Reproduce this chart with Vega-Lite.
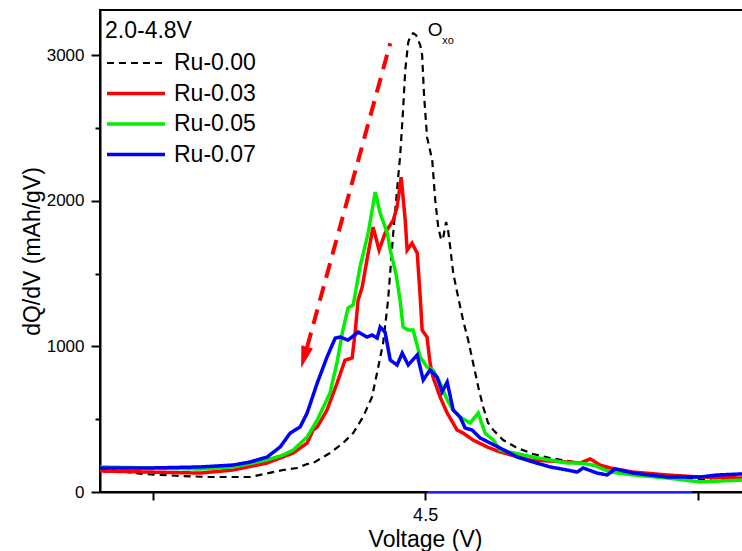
{
  "$schema": "https://vega.github.io/schema/vega-lite/v6.json",
  "width": 650,
  "height": 482,
  "autosize": "none",
  "padding": {"left": 100, "top": 10, "right": 0, "bottom": 59},
  "background": "white",
  "config": {
    "font": "Liberation Sans",
    "view": {"stroke": "black", "strokeWidth": 2},
    "axis": {"domainColor": "black", "domainWidth": 2, "tickColor": "black", "tickWidth": 2, "labelColor": "black", "titleColor": "black", "grid": false, "labelFontSize": 17, "titleFontSize": 23, "titleFontWeight": "normal"}
  },
  "datasets": {
    "curves": [
      {"s": "Ru-0.00", "v": 4.3807, "q": 158}, {"s": "Ru-0.00", "v": 4.3965, "q": 124}, {"s": "Ru-0.00", "v": 4.4101, "q": 110}, {"s": "Ru-0.00", "v": 4.4211, "q": 103}, {"s": "Ru-0.00", "v": 4.4358, "q": 103}, {"s": "Ru-0.00", "v": 4.4479, "q": 151}, {"s": "Ru-0.00", "v": 4.4530, "q": 165}, {"s": "Ru-0.00", "v": 4.4567, "q": 192}, {"s": "Ru-0.00", "v": 4.4589, "q": 199}, {"s": "Ru-0.00", "v": 4.4651, "q": 268}, {"s": "Ru-0.00", "v": 4.4699, "q": 336}, {"s": "Ru-0.00", "v": 4.4736, "q": 405}, {"s": "Ru-0.00", "v": 4.4772, "q": 515}, {"s": "Ru-0.00", "v": 4.4805, "q": 652}, {"s": "Ru-0.00", "v": 4.4828, "q": 858}, {"s": "Ru-0.00", "v": 4.4846, "q": 1023}, {"s": "Ru-0.00", "v": 4.4864, "q": 1318}, {"s": "Ru-0.00", "v": 4.4883, "q": 1778}, {"s": "Ru-0.00", "v": 4.4901, "q": 2162}, {"s": "Ru-0.00", "v": 4.4908, "q": 2300}, {"s": "Ru-0.00", "v": 4.4919, "q": 2622}, {"s": "Ru-0.00", "v": 4.4927, "q": 2897}, {"s": "Ru-0.00", "v": 4.4938, "q": 3089}, {"s": "Ru-0.00", "v": 4.4945, "q": 3124}, {"s": "Ru-0.00", "v": 4.4956, "q": 3151}, {"s": "Ru-0.00", "v": 4.4967, "q": 3137}, {"s": "Ru-0.00", "v": 4.4982, "q": 3069}, {"s": "Ru-0.00", "v": 4.4989, "q": 3000}, {"s": "Ru-0.00", "v": 4.4996, "q": 2725}, {"s": "Ru-0.00", "v": 4.5007, "q": 2437}, {"s": "Ru-0.00", "v": 4.5026, "q": 2279}, {"s": "Ru-0.00", "v": 4.5037, "q": 2005}, {"s": "Ru-0.00", "v": 4.5048, "q": 1819}, {"s": "Ru-0.00", "v": 4.5059, "q": 1730}, {"s": "Ru-0.00", "v": 4.5066, "q": 1744}, {"s": "Ru-0.00", "v": 4.5077, "q": 1854}, {"s": "Ru-0.00", "v": 4.5084, "q": 1799}, {"s": "Ru-0.00", "v": 4.5092, "q": 1682}, {"s": "Ru-0.00", "v": 4.5103, "q": 1503}, {"s": "Ru-0.00", "v": 4.5121, "q": 1339}, {"s": "Ru-0.00", "v": 4.5139, "q": 1181}, {"s": "Ru-0.00", "v": 4.5158, "q": 1043}, {"s": "Ru-0.00", "v": 4.5176, "q": 886}, {"s": "Ru-0.00", "v": 4.5195, "q": 721}, {"s": "Ru-0.00", "v": 4.5213, "q": 584}, {"s": "Ru-0.00", "v": 4.5231, "q": 474}, {"s": "Ru-0.00", "v": 4.5250, "q": 426}, {"s": "Ru-0.00", "v": 4.5286, "q": 357}, {"s": "Ru-0.00", "v": 4.5338, "q": 302}, {"s": "Ru-0.00", "v": 4.5396, "q": 261}, {"s": "Ru-0.00", "v": 4.5459, "q": 233}, {"s": "Ru-0.00", "v": 4.5569, "q": 199}, {"s": "Ru-0.00", "v": 4.5642, "q": 172}, {"s": "Ru-0.00", "v": 4.5763, "q": 137}, {"s": "Ru-0.00", "v": 4.5888, "q": 110}, {"s": "Ru-0.00", "v": 4.6009, "q": 89}, {"s": "Ru-0.00", "v": 4.6057, "q": 76}, {"s": "Ru-0.00", "v": 4.6163, "q": 96},

      {"s": "Ru-0.03", "v": 4.3807, "q": 144}, {"s": "Ru-0.03", "v": 4.3991, "q": 137}, {"s": "Ru-0.03", "v": 4.4174, "q": 130}, {"s": "Ru-0.03", "v": 4.4295, "q": 151}, {"s": "Ru-0.03", "v": 4.4420, "q": 199}, {"s": "Ru-0.03", "v": 4.4516, "q": 268}, {"s": "Ru-0.03", "v": 4.4567, "q": 336}, {"s": "Ru-0.03", "v": 4.4589, "q": 426}, {"s": "Ru-0.03", "v": 4.4604, "q": 446}, {"s": "Ru-0.03", "v": 4.4640, "q": 563}, {"s": "Ru-0.03", "v": 4.4677, "q": 748}, {"s": "Ru-0.03", "v": 4.4706, "q": 906}, {"s": "Ru-0.03", "v": 4.4732, "q": 920}, {"s": "Ru-0.03", "v": 4.4743, "q": 1092}, {"s": "Ru-0.03", "v": 4.4754, "q": 1318}, {"s": "Ru-0.03", "v": 4.4769, "q": 1407}, {"s": "Ru-0.03", "v": 4.4791, "q": 1641}, {"s": "Ru-0.03", "v": 4.4809, "q": 1819}, {"s": "Ru-0.03", "v": 4.4831, "q": 1661}, {"s": "Ru-0.03", "v": 4.4853, "q": 1778}, {"s": "Ru-0.03", "v": 4.4883, "q": 1867}, {"s": "Ru-0.03", "v": 4.4897, "q": 1957}, {"s": "Ru-0.03", "v": 4.4912, "q": 2162}, {"s": "Ru-0.03", "v": 4.4927, "q": 1867}, {"s": "Ru-0.03", "v": 4.4934, "q": 1661}, {"s": "Ru-0.03", "v": 4.4952, "q": 1709}, {"s": "Ru-0.03", "v": 4.4971, "q": 1641}, {"s": "Ru-0.03", "v": 4.4982, "q": 1339}, {"s": "Ru-0.03", "v": 4.4989, "q": 1112}, {"s": "Ru-0.03", "v": 4.5007, "q": 1064}, {"s": "Ru-0.03", "v": 4.5018, "q": 886}, {"s": "Ru-0.03", "v": 4.5029, "q": 789}, {"s": "Ru-0.03", "v": 4.5055, "q": 652}, {"s": "Ru-0.03", "v": 4.5081, "q": 542}, {"s": "Ru-0.03", "v": 4.5117, "q": 426}, {"s": "Ru-0.03", "v": 4.5139, "q": 405}, {"s": "Ru-0.03", "v": 4.5176, "q": 357}, {"s": "Ru-0.03", "v": 4.5228, "q": 309}, {"s": "Ru-0.03", "v": 4.5275, "q": 275}, {"s": "Ru-0.03", "v": 4.5385, "q": 220}, {"s": "Ru-0.03", "v": 4.5521, "q": 206}, {"s": "Ru-0.03", "v": 4.5569, "q": 199}, {"s": "Ru-0.03", "v": 4.5606, "q": 227}, {"s": "Ru-0.03", "v": 4.5642, "q": 185}, {"s": "Ru-0.03", "v": 4.5679, "q": 165}, {"s": "Ru-0.03", "v": 4.5763, "q": 137}, {"s": "Ru-0.03", "v": 4.5888, "q": 117}, {"s": "Ru-0.03", "v": 4.6009, "q": 103}, {"s": "Ru-0.03", "v": 4.6163, "q": 96},

      {"s": "Ru-0.05", "v": 4.3807, "q": 172}, {"s": "Ru-0.05", "v": 4.3991, "q": 165}, {"s": "Ru-0.05", "v": 4.4174, "q": 158}, {"s": "Ru-0.05", "v": 4.4295, "q": 172}, {"s": "Ru-0.05", "v": 4.4420, "q": 220}, {"s": "Ru-0.05", "v": 4.4479, "q": 254}, {"s": "Ru-0.05", "v": 4.4516, "q": 288}, {"s": "Ru-0.05", "v": 4.4567, "q": 378}, {"s": "Ru-0.05", "v": 4.4604, "q": 494}, {"s": "Ru-0.05", "v": 4.4651, "q": 680}, {"s": "Ru-0.05", "v": 4.4677, "q": 892}, {"s": "Ru-0.05", "v": 4.4696, "q": 1092}, {"s": "Ru-0.05", "v": 4.4717, "q": 1263}, {"s": "Ru-0.05", "v": 4.4736, "q": 1284}, {"s": "Ru-0.05", "v": 4.4761, "q": 1545}, {"s": "Ru-0.05", "v": 4.4791, "q": 1778}, {"s": "Ru-0.05", "v": 4.4817, "q": 2060}, {"s": "Ru-0.05", "v": 4.4835, "q": 1915}, {"s": "Ru-0.05", "v": 4.4861, "q": 1778}, {"s": "Ru-0.05", "v": 4.4872, "q": 1661}, {"s": "Ru-0.05", "v": 4.4894, "q": 1490}, {"s": "Ru-0.05", "v": 4.4908, "q": 1318}, {"s": "Ru-0.05", "v": 4.4919, "q": 1133}, {"s": "Ru-0.05", "v": 4.4938, "q": 1112}, {"s": "Ru-0.05", "v": 4.4956, "q": 1112}, {"s": "Ru-0.05", "v": 4.4982, "q": 927}, {"s": "Ru-0.05", "v": 4.5007, "q": 858}, {"s": "Ru-0.05", "v": 4.5029, "q": 838}, {"s": "Ru-0.05", "v": 4.5055, "q": 748}, {"s": "Ru-0.05", "v": 4.5081, "q": 632}, {"s": "Ru-0.05", "v": 4.5103, "q": 563}, {"s": "Ru-0.05", "v": 4.5128, "q": 515}, {"s": "Ru-0.05", "v": 4.5165, "q": 474}, {"s": "Ru-0.05", "v": 4.5195, "q": 542}, {"s": "Ru-0.05", "v": 4.5220, "q": 405}, {"s": "Ru-0.05", "v": 4.5250, "q": 357}, {"s": "Ru-0.05", "v": 4.5275, "q": 288}, {"s": "Ru-0.05", "v": 4.5396, "q": 240}, {"s": "Ru-0.05", "v": 4.5521, "q": 199}, {"s": "Ru-0.05", "v": 4.5569, "q": 199}, {"s": "Ru-0.05", "v": 4.5617, "q": 185}, {"s": "Ru-0.05", "v": 4.5679, "q": 137}, {"s": "Ru-0.05", "v": 4.5763, "q": 117}, {"s": "Ru-0.05", "v": 4.5888, "q": 96}, {"s": "Ru-0.05", "v": 4.6009, "q": 69}, {"s": "Ru-0.05", "v": 4.6163, "q": 82},

      {"s": "Ru-0.07", "v": 4.3807, "q": 165}, {"s": "Ru-0.07", "v": 4.3991, "q": 165}, {"s": "Ru-0.07", "v": 4.4174, "q": 172}, {"s": "Ru-0.07", "v": 4.4295, "q": 185}, {"s": "Ru-0.07", "v": 4.4358, "q": 206}, {"s": "Ru-0.07", "v": 4.4420, "q": 240}, {"s": "Ru-0.07", "v": 4.4468, "q": 309}, {"s": "Ru-0.07", "v": 4.4505, "q": 405}, {"s": "Ru-0.07", "v": 4.4541, "q": 446}, {"s": "Ru-0.07", "v": 4.4567, "q": 542}, {"s": "Ru-0.07", "v": 4.4604, "q": 748}, {"s": "Ru-0.07", "v": 4.4640, "q": 927}, {"s": "Ru-0.07", "v": 4.4670, "q": 1057}, {"s": "Ru-0.07", "v": 4.4688, "q": 1064}, {"s": "Ru-0.07", "v": 4.4717, "q": 1043}, {"s": "Ru-0.07", "v": 4.4754, "q": 1098}, {"s": "Ru-0.07", "v": 4.4787, "q": 1064}, {"s": "Ru-0.07", "v": 4.4805, "q": 1078}, {"s": "Ru-0.07", "v": 4.4824, "q": 1057}, {"s": "Ru-0.07", "v": 4.4835, "q": 1133}, {"s": "Ru-0.07", "v": 4.4853, "q": 1098}, {"s": "Ru-0.07", "v": 4.4872, "q": 906}, {"s": "Ru-0.07", "v": 4.4897, "q": 872}, {"s": "Ru-0.07", "v": 4.4916, "q": 954}, {"s": "Ru-0.07", "v": 4.4938, "q": 872}, {"s": "Ru-0.07", "v": 4.4971, "q": 941}, {"s": "Ru-0.07", "v": 4.4993, "q": 769}, {"s": "Ru-0.07", "v": 4.5018, "q": 838}, {"s": "Ru-0.07", "v": 4.5044, "q": 789}, {"s": "Ru-0.07", "v": 4.5062, "q": 687}, {"s": "Ru-0.07", "v": 4.5081, "q": 755}, {"s": "Ru-0.07", "v": 4.5103, "q": 563}, {"s": "Ru-0.07", "v": 4.5128, "q": 515}, {"s": "Ru-0.07", "v": 4.5147, "q": 439}, {"s": "Ru-0.07", "v": 4.5172, "q": 426}, {"s": "Ru-0.07", "v": 4.5202, "q": 371}, {"s": "Ru-0.07", "v": 4.5239, "q": 336}, {"s": "Ru-0.07", "v": 4.5275, "q": 302}, {"s": "Ru-0.07", "v": 4.5338, "q": 240}, {"s": "Ru-0.07", "v": 4.5396, "q": 206}, {"s": "Ru-0.07", "v": 4.5459, "q": 172}, {"s": "Ru-0.07", "v": 4.5521, "q": 151}, {"s": "Ru-0.07", "v": 4.5558, "q": 137}, {"s": "Ru-0.07", "v": 4.5580, "q": 165}, {"s": "Ru-0.07", "v": 4.5631, "q": 130}, {"s": "Ru-0.07", "v": 4.5668, "q": 117}, {"s": "Ru-0.07", "v": 4.5697, "q": 158}, {"s": "Ru-0.07", "v": 4.5763, "q": 130}, {"s": "Ru-0.07", "v": 4.5888, "q": 103}, {"s": "Ru-0.07", "v": 4.6009, "q": 103}, {"s": "Ru-0.07", "v": 4.6072, "q": 117}, {"s": "Ru-0.07", "v": 4.6163, "q": 124}
    ],
    "baseline": [{"v": 4.5007, "q": 0}, {"v": 4.5980, "q": 0}],
    "arrow": [{"v": 4.4872, "q": 3082}, {"v": 4.4567, "q": 995}],
    "head": [{"v": 4.4556, "q": 924}],
    "oxo": [{"v": 4.5037, "q": 3172, "t": "O"}],
    "oxosub": [{"v": 4.5084, "q": 3096, "t": "xo"}]
  },
  "layer": [
    {
      "data": {"name": "curves"},
      "mark": {"type": "line", "clip": true},
      "encoding": {
        "x": {"field": "v", "type": "quantitative", "scale": {"domain": [4.3807, 4.6192], "nice": false, "zero": false},
              "axis": {"values": [4.4, 4.5, 4.6], "labelExpr": "datum.value == 4.5 ? '4.5' : ''", "labelFontSize": 18, "tickSize": 8, "labelPadding": 6, "title": "Voltage (V)", "titleY": 47, "titleBaseline": "middle"}},
        "y": {"field": "q", "type": "quantitative", "scale": {"domain": [0, 3310], "nice": false},
              "axis": {"values": [0, 500, 1000, 1500, 2000, 2500, 3000], "format": "d", "labelExpr": "datum.value % 1000 == 0 ? datum.label : ''", "labelFontSize": 17,
                       "tickSize": {"condition": {"test": "datum.value % 1000 == 0", "value": 9}, "value": 5}, "labelPadding": 7, "title": "dQ/dV (mAh/gV)", "titlePadding": 2}},
        "color": {"field": "s", "type": "nominal", "scale": {"domain": ["Ru-0.00", "Ru-0.03", "Ru-0.05", "Ru-0.07"], "range": ["#000000", "#ff0000", "#00f000", "#0000ff"]},
                  "legend": {"title": "2.0-4.8V", "orient": "none", "legendX": 5, "legendY": 10, "symbolType": "stroke", "symbolSize": 3364, "clipHeight": 26, "rowPadding": 4.5, "labelFontSize": 23, "titleFontSize": 23, "titleFontWeight": "normal", "titleColor": "black", "labelColor": "black", "labelOffset": 7, "titlePadding": 7, "padding": 0}},
        "strokeDash": {"field": "s", "type": "nominal", "scale": {"domain": ["Ru-0.00", "Ru-0.03", "Ru-0.05", "Ru-0.07"], "range": [[7, 5], [1, 0], [1, 0], [1, 0]]}},
        "strokeWidth": {"field": "s", "type": "nominal", "scale": {"type": "ordinal", "domain": ["Ru-0.00", "Ru-0.03", "Ru-0.05", "Ru-0.07"], "range": [2.2, 3.5, 3.5, 3.5]}}
      }
    },
    {
      "data": {"name": "baseline"},
      "mark": {"type": "line", "color": "#2020ff", "strokeWidth": 2, "clip": false},
      "encoding": {"x": {"field": "v", "type": "quantitative"}, "y": {"field": "q", "type": "quantitative"}}
    },
    {
      "data": {"name": "arrow"},
      "mark": {"type": "line", "color": "#ff0000", "strokeWidth": 4, "strokeDash": [15, 9]},
      "encoding": {"x": {"field": "v", "type": "quantitative"}, "y": {"field": "q", "type": "quantitative"}}
    },
    {
      "data": {"name": "head"},
      "mark": {"type": "point", "shape": "M-0.55,-1L0.55,-1L0,1Z", "size": 480, "angle": 16, "filled": true, "color": "#ff0000", "opacity": 1, "strokeWidth": 0},
      "encoding": {"x": {"field": "v", "type": "quantitative"}, "y": {"field": "q", "type": "quantitative"}}
    },
    {
      "data": {"name": "oxo"},
      "mark": {"type": "text", "fontSize": 19, "align": "center", "baseline": "middle", "color": "black"},
      "encoding": {"x": {"field": "v", "type": "quantitative"}, "y": {"field": "q", "type": "quantitative"}, "text": {"field": "t"}}
    },
    {
      "data": {"name": "oxosub"},
      "mark": {"type": "text", "fontSize": 11, "align": "center", "baseline": "middle", "color": "black"},
      "encoding": {"x": {"field": "v", "type": "quantitative"}, "y": {"field": "q", "type": "quantitative"}, "text": {"field": "t"}}
    }
  ]
}
